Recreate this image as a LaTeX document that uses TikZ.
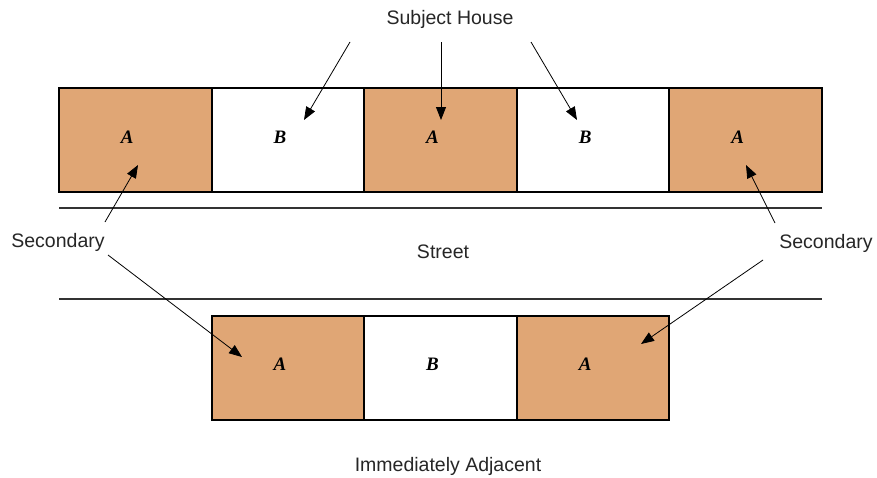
\documentclass[tikz,border=0pt]{standalone}
\usepackage{fontspec}
\setmainfont{Liberation Sans}
\newfontfamily\serifAB{Liberation Serif}
\usetikzlibrary{arrows.meta}
\definecolor{housetan}{RGB}{224,166,117}
\tikzset{
  house/.style={draw=black, line width=2pt, outer sep=0pt, minimum width=152.6pt, minimum height=104pt, inner sep=0pt, anchor=north west},
  hA/.style={house, fill=housetan},
  hB/.style={house, fill=white},
  letter/.style={font=\serifAB\bfseries\itshape\fontsize{19}{19}\selectfont, inner sep=0pt},
  lbl/.style={font=\fontsize{19.5}{22}\selectfont, text=black!85, inner sep=0pt},
  streetline/.style={draw=black!80, line width=1.4pt},
  pointer/.style={draw=black, line width=0.8pt, -{Triangle[length=13pt,width=10pt]}}
}
\begin{document}
\begin{tikzpicture}[x=1pt,y=-1pt]
\useasboundingbox (0,0) rectangle (877,477);
% top row
\node[hA] (t1) at (59,88) {};
\node[hB] (t2) at (211.6,88) {};
\node[hA] (t3) at (364.2,88) {};
\node[hB] (t4) at (516.8,88) {};
\node[hA] (t5) at (669.4,88) {};
% bottom row
\node[hA] (b1) at (211.6,316) {};
\node[hB] (b2) at (364.2,316) {};
\node[hA] (b3) at (516.8,316) {};
% letters
\node[letter] (lt1) at ([shift={(-8,-3)}]t1.center) {A};
\node[letter] (lt2) at ([shift={(-8,-3)}]t2.center) {B};
\node[letter] (lt3) at ([shift={(-8,-3)}]t3.center) {A};
\node[letter] (lt4) at ([shift={(-8,-3)}]t4.center) {B};
\node[letter] (lt5) at ([shift={(-8,-3)}]t5.center) {A};
\node[letter] (lb1) at ([shift={(-8,-4)}]b1.center) {A};
\node[letter] (lb2) at ([shift={(-8,-4)}]b2.center) {B};
\node[letter] (lb3) at ([shift={(-8,-4)}]b3.center) {A};
% street
\coordinate (s1l) at (59,208); \coordinate (s1r) at (822,208);
\coordinate (s2l) at (59,299); \coordinate (s2r) at (822,299);
\draw[streetline] (s1l) -- (s1r);
\draw[streetline] (s2l) -- (s2r);
% labels
\node[lbl] (subj) at (450,19) {Subject House};
\node[lbl] (street) at (443,252) {Street};
\node[lbl] (secL) at (58,242) {Secondary};
\node[lbl] (secR) at (826,243) {Secondary};
\node[lbl] (adj) at (448,466) {Immediately Adjacent};
% arrow start/end coordinates
\coordinate (a1s) at (350,42); \coordinate (a1e) at (304,120);
\coordinate (a2s) at (441,42); \coordinate (a2e) at (441,120);
\coordinate (a3s) at (531,42); \coordinate (a3e) at (577,120);
\coordinate (l1s) at (105,222); \coordinate (l1e) at (138,165);
\coordinate (l2s) at (108,255); \coordinate (l2e) at (242,357);
\coordinate (r1s) at (775,223); \coordinate (r1e) at (746,165);
\coordinate (r2s) at (763,260); \coordinate (r2e) at (641,344);
\draw[pointer] (a1s) -- (a1e);
\draw[pointer] (a2s) -- (a2e);
\draw[pointer] (a3s) -- (a3e);
\draw[pointer] (l1s) -- (l1e);
\draw[pointer] (l2s) -- (l2e);
\draw[pointer] (r1s) -- (r1e);
\draw[pointer] (r2s) -- (r2e);
\end{tikzpicture}
\end{document}
